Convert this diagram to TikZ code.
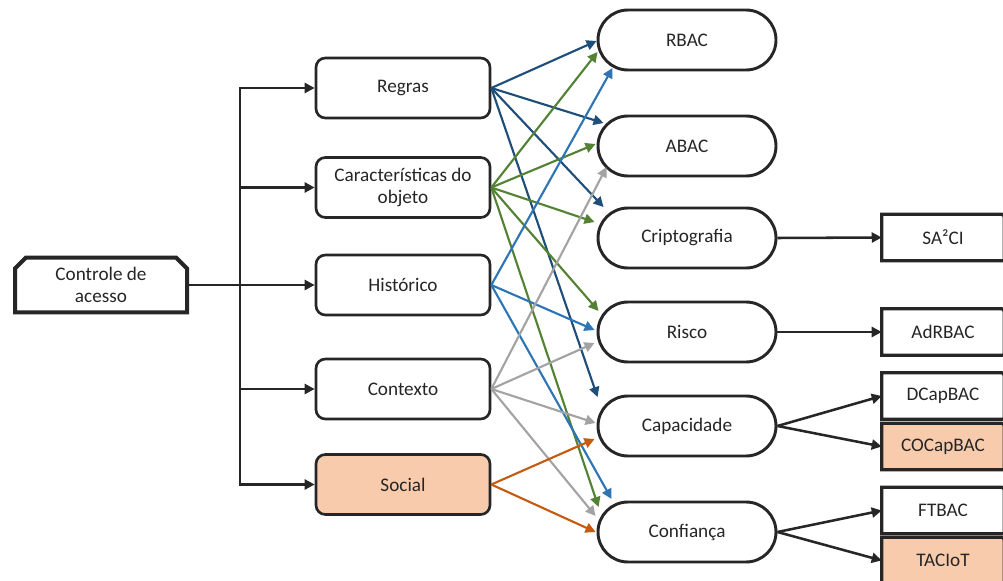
\documentclass[tikz,border=0pt]{standalone}
\usepackage{fontspec}
\setmainfont{Carlito}
\usetikzlibrary{shapes.misc,arrows.meta,calc,backgrounds}

\definecolor{ink}{HTML}{262626}
\definecolor{peach}{HTML}{F8CBAD}
\definecolor{navy}{HTML}{1F4E79}
\definecolor{sky}{HTML}{2E75B6}
\definecolor{leaf}{HTML}{548235}
\definecolor{ash}{HTML}{A3A3A3}
\definecolor{rust}{HTML}{C55A11}

\tikzset{
  tip/.style={-{Triangle[length=7.5pt,width=7.5pt]}},
  rootbox/.style={chamfered rectangle, chamfered rectangle corners={north west,north east},
    chamfered rectangle xsep=5pt, draw=ink, line width=3pt, fill=white,
    minimum width=129pt, minimum height=41pt, inner sep=0pt, align=center, text=ink},
  featbox/.style={rectangle, rounded corners=7pt, draw=ink, line width=2pt, fill=white,
    minimum width=130.5pt, minimum height=45pt, inner sep=0pt, align=center, text=ink},
  modelbox/.style={rounded rectangle, draw=ink, line width=2.2pt, fill=white,
    minimum width=133.5pt, minimum height=45pt, inner sep=0pt, align=center, text=ink},
  refbox/.style={rectangle, minimum width=91.5pt, minimum height=34.5pt, inner sep=0pt, text=ink},
  refline/.style={draw=ink, line width=2.5pt},
  wire/.style={draw=ink, line width=1.9pt},
  link/.style={tip, line width=1.6pt},
}

\begin{document}
\begin{tikzpicture}[x=0.75pt, y=-0.75pt, font=\fontsize{14.4}{16.8}\selectfont]
\useasboundingbox (0,0) rectangle (1003,581);
\clip (0,0) rectangle (1003,581);

% root
\node[rootbox] (ctrl) at (101,285) {Controle de\\acesso};

% access-control features
\node[featbox] (regras) at (403,88) {Regras};
\node[featbox] (caract) at (403,187.5) {Características do\\objeto};
\node[featbox] (hist) at (403,285) {Histórico};
\node[featbox] (ctx) at (403,389) {Contexto};
\node[featbox, fill=peach] (social) at (403,484.5) {Social};

% models
\node[modelbox] (rbac) at (687,40) {RBAC};
\node[modelbox] (abac) at (687,146) {ABAC};
\node[modelbox] (cripto) at (687,238) {Criptografia};
\node[modelbox] (risco) at (687,332) {Risco};
\node[modelbox] (capac) at (687,426) {Capacidade};
\node[modelbox] (conf) at (687,532) {Confiança};

% proposals (outline drawn behind, rounded only at the top right)
\node[refbox] (sa) at (943,237.5) {SA²CI};
\node[refbox] (adr) at (943,332) {AdRBAC};
\node[refbox] (dcap) at (943,396) {DCapBAC};
\node[refbox] (cocap) at (943,446.5) {COCapBAC};
\node[refbox] (ftb) at (943,510.5) {FTBAC};
\node[refbox] (tac) at (943,560.5) {TACIoT};

\begin{scope}[on background layer]
\clip (0,0) rectangle (1003,581);
\foreach \n/\f in {sa/white,adr/white,dcap/white,cocap/peach,ftb/white,tac/peach}{
  \path[refline, fill=\f] (\n.south east) -- (\n.south west) -- (\n.north west)
    -- ($(\n.north east)+(-6,0)$) .. controls (\n.north east) .. ($(\n.north east)+(0,6)$)
    -- cycle;
}
\end{scope}

% trunk from the root to the features
\coordinate (trunk) at (240,285);
\draw[wire] (ctrl.east) -- (trunk);
\draw[wire, line cap=rect] (trunk |- regras.west) -- (trunk |- social.west);
\foreach \n in {regras,caract,hist,ctx,social}{
  \draw[wire, tip] (trunk |- \n.west) -- (\n.west);
}

% features to models
\draw[link, navy] (regras.east) -- ($(rbac.west)+(0,1)$);
\draw[link, navy] (regras.east) -- ($(abac.west)+(7,-23)$);
\draw[link, navy] (regras.east) -- ($(cripto.west)+(7,-31)$);
\draw[link, navy] (regras.east) -- ($(capac.west)+(1,-29)$);

\draw[link, leaf] (caract.east) -- ($(rbac.west)+(1,12)$);
\draw[link, leaf] (caract.east) -- ($(abac.west)+(-1,-2)$);
\draw[link, leaf] (caract.east) -- ($(cripto.west)+(-2,-16)$);
\draw[link, leaf] (caract.east) -- ($(risco.west)+(2,-21)$);
\draw[link, leaf] (caract.east) -- ($(conf.west)+(2,-25)$);

\draw[link, sky] (hist.east) -- ($(rbac.west)+(16,28)$);
\draw[link, sky] (hist.east) -- ($(risco.west)+(-2,-2)$);
\draw[link, sky] (hist.east) -- ($(conf.west)+(15,-33)$);

\draw[link, ash] (ctx.east) -- ($(abac.west)+(10,21)$);
\draw[link, ash] (ctx.east) -- ($(risco.west)+(-2,11)$);
\draw[link, ash] (ctx.east) -- ($(capac.west)+(-1,-3)$);
\draw[link, ash] (ctx.east) -- ($(conf.west)+(-1,-16)$);

\draw[link, rust] (social.east) -- ($(capac.west)+(-2,13)$);
\draw[link, rust] (social.east) -- ($(conf.west)+(-1,0)$);

% models to proposals
\draw[wire, tip] (cripto.east) -- (sa.west);
\draw[wire, tip] (risco.east) -- (adr.west);
\draw[wire, tip] (capac.east) -- (dcap.west);
\draw[wire, tip] (capac.east) -- (cocap.west);
\draw[wire, tip] (conf.east) -- (ftb.west);
\draw[wire, tip] (conf.east) -- (tac.west);
\end{tikzpicture}
\end{document}
